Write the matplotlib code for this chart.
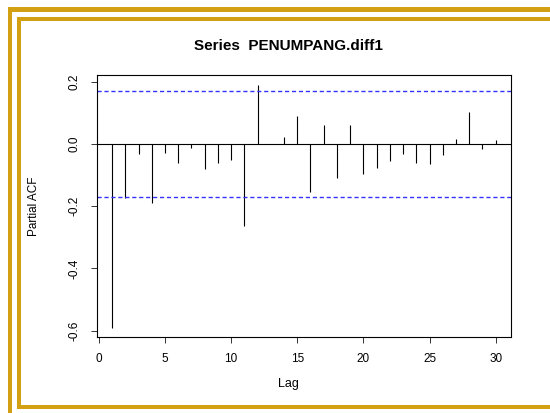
import numpy as np
import matplotlib
matplotlib.use("Agg")
import matplotlib.pyplot as plt
from matplotlib.patches import Rectangle

plt.rcParams['font.family'] = ['Liberation Sans', 'DejaVu Sans']

# PACF de la série différenciée
lags = np.arange(1, 31)
pacf = [-0.590, -0.175, -0.032, -0.190, -0.030, -0.062, -0.013, -0.080, -0.062, -0.051,
        -0.265, 0.189, 0.000, 0.022, 0.091, -0.153, 0.062, -0.109, 0.062, -0.096,
        -0.077, -0.056, -0.032, -0.060, -0.064, -0.035, 0.017, 0.103, -0.015, 0.011]
clim = 0.17
xticks = [0, 5, 10, 15, 20, 25, 30]
yticks = [-0.6, -0.4, -0.2, 0.0, 0.2]
ytick_labels = ["-0.6", "-0.4", "-0.2", "0.0", "0.2"]

W, H = 550, 413
fig = plt.figure(figsize=(W / 100, H / 100), dpi=100)

# cadre doré (style diapo)
gold = '#D3A013'
def bande(x0, y0, x1, y1):
    fig.patches.append(Rectangle((x0 / W, 1 - y1 / H), (x1 - x0) / W, (y1 - y0) / H,
                                 transform=fig.transFigure, facecolor=gold,
                                 edgecolor='none', zorder=0))
bande(8.3, 7.3, 12.3, 413)
bande(8.3, 7.3, 550, 12)
bande(17.3, 16.7, 21.3, 409.3)
bande(17.3, 16.7, 550, 20.7)
bande(17.3, 405, 550, 409.3)

ax = fig.add_axes([96.7 / W, 1 - 337.3 / H, (511 - 96.7) / W, (337.3 - 75.3) / H])

ax.vlines(lags, 0, pacf, color='black', lw=0.8)
ax.axhline(0, color='black', lw=0.8)
ax.axhline(clim, color='#3333ff', lw=1.0, ls=(0, (3.0, 2.0)))
ax.axhline(-clim, color='#3333ff', lw=1.0, ls=(0, (3.0, 2.0)))

rng = max(pacf) - min(pacf)
ax.set_xlim(1 - 0.04 * 29, 30 + 0.04 * 29)
ax.set_ylim(min(pacf) - 0.04 * rng, max(pacf) + 0.04 * rng)

ax.set_xticks(xticks)
ax.set_yticks(yticks)
ax.set_yticklabels(ytick_labels, rotation=90, va='center')
ax.tick_params(axis='both', direction='out', length=4.5, width=0.7, labelsize=8.5, color='#333333')
ax.tick_params(axis='x', pad=7)
ax.tick_params(axis='y', pad=7)
for s in ax.spines.values():
    s.set_linewidth(0.8)

ax.set_title("Series  PENUMPANG.diff1", fontsize=11, fontweight='bold', x=0.462, y=1.095, pad=0)
ax.set_xlabel("Lag", fontsize=9)
ax.set_ylabel("Partial ACF", fontsize=8.5)
ax.xaxis.set_label_coords(0.463, -0.155)
ax.yaxis.set_label_coords(-0.137, 0.5)

fig.savefig("out.png", dpi=100)
